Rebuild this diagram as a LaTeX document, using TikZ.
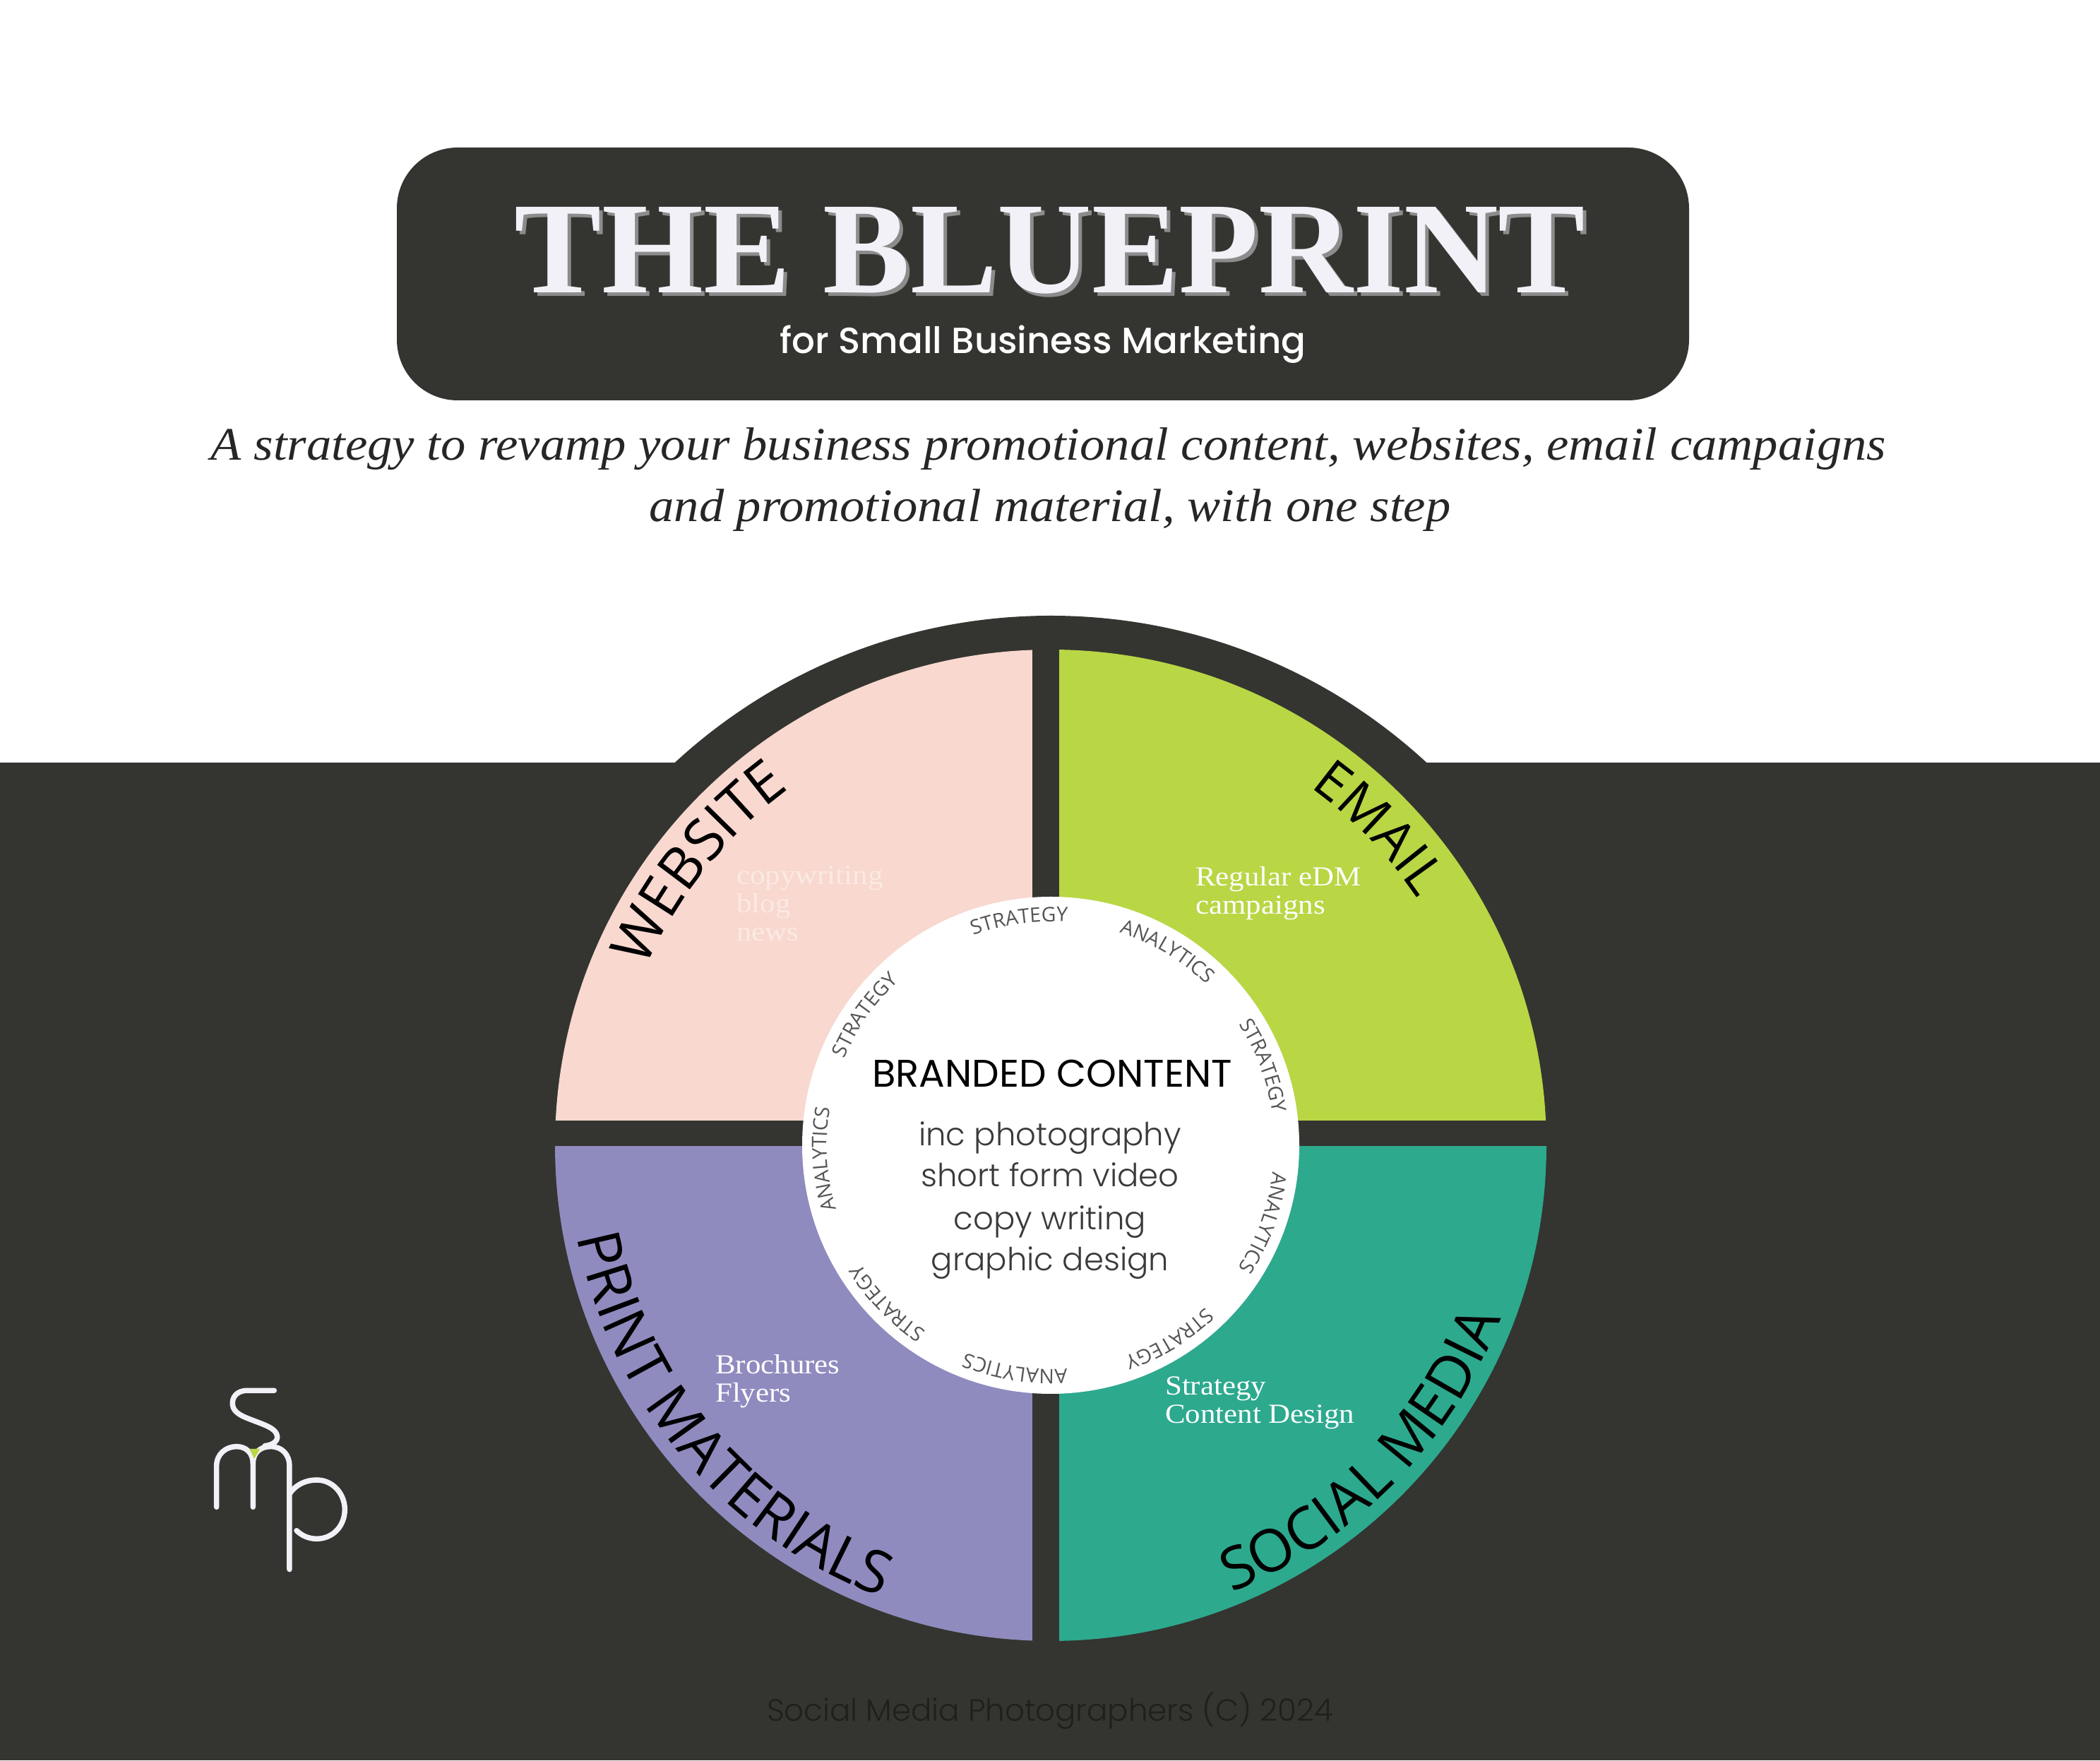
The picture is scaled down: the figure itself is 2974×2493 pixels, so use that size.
\documentclass[tikz,border=0pt]{standalone}
\usepackage{fontspec}
\usetikzlibrary{decorations.text}
\setmainfont{Liberation Serif}
\newfontfamily\capfam[FakeStretch=1.1]{Liberation Serif}
\newfontfamily\tagfam[FakeStretch=1.07]{Liberation Serif}
\newfontfamily\popp[UprightFont=* Light,BoldFont=* Medium]{Poppins}
\newfontfamily\poppreg{Poppins}
\newfontfamily\opsansreg{Open Sans}
\definecolor{darkbg}{HTML}{343530}
\definecolor{pinkq}{HTML}{F8D8CF}
\definecolor{greenq}{HTML}{B9D645}
\definecolor{tealq}{HTML}{2DA98E}
\definecolor{purpleq}{HTML}{8F8BBF}
\definecolor{titlewhite}{HTML}{F2F1F8}
\definecolor{ringgrey}{HTML}{555555}
\definecolor{bodygrey}{HTML}{3A3A3A}
\definecolor{footer}{HTML}{1F201C}
\definecolor{palepink}{HTML}{FBEAE4}
\newcommand\ringfont{\fontsize{28.5}{28.5}\selectfont\opsansreg\color{ringgrey}}
\newcommand\bigfont{\fontsize{84}{84}\selectfont\opsansreg\color{black}}
\newcommand\socfont{\fontsize{83}{83}\selectfont\opsansreg\color{black}}
\newcommand\webfont{\fontsize{81}{81}\selectfont\opsansreg\color{black}}
\newcommand\mailfont{\fontsize{76}{76}\selectfont\opsansreg\color{black}}
\tikzset{
  curved/.style={decorate,decoration={text along path,text align=center,text={#1}}},
  capt/.style={anchor=base west,align=left,inner sep=0pt,text=white,font=\fontsize{39}{40}\selectfont\capfam},
  stroke/.style={draw=titlewhite,line width=7.5pt,line cap=round,line join=round},
}
% clockwise label: angle, baseline radius, text with format
\newcommand\cwlabel[3]{\path[curved={#3}] ({#1+60}:#2) arc[start angle={#1+60},end angle={#1-60},radius=#2];}
\newcommand\ccwlabel[3]{\path[curved={#3}] ({#1-60}:#2) arc[start angle={#1-60},end angle={#1+60},radius=#2];}
\begin{document}
\begin{tikzpicture}[x=1pt,y=1pt]
\useasboundingbox (0,0) rectangle (2974,2493);
\fill[white] (0,0) rectangle (2974,2493);
\fill[darkbg] (0,0) rectangle (2974,1413);
\coordinate (c) at (1488,871);
\coordinate (ringc) at (1488,836);
\fill[darkbg] (ringc) circle[radius=785];
\begin{scope}
  \clip (c) circle[radius=702];
  \fill[pinkq] (700,906) rectangle (1462,1700);
  \fill[greenq] (1500,906) rectangle (2300,1700);
  \fill[purpleq] (700,870) rectangle (1462,100);
  \fill[tealq] (1500,870) rectangle (2300,100);
\end{scope}
\fill[white] (c) circle[radius=352];
% title
\fill[darkbg,rounded corners=86pt] (562,1926) rectangle (2392,2284);
\node[anchor=base,inner sep=0pt,text=gray!90] at (1492,2073) {\fontsize{185}{185}\selectfont\bfseries THE BLUEPRINT};
\node[anchor=base,inner sep=0pt,text=titlewhite] (title) at (1487,2078) {\fontsize{185}{185}\selectfont\bfseries THE BLUEPRINT};
\node[anchor=base,inner sep=0pt,text=white] (sub) at (1477,1992) {\fontsize{51.5}{51.5}\selectfont\popp\bfseries for Small Business Marketing};
\node[anchor=base,inner sep=0pt,text=black!85] (tag1) at (1485,1841) {\fontsize{66}{66}\selectfont\tagfam\itshape A strategy to revamp your business promotional content, websites, email campaigns};
\node[anchor=base,inner sep=0pt,text=black!85] (tag2) at (1487,1754) {\fontsize{66}{66}\selectfont\tagfam\itshape and promotional material, with one step};
% quadrant captions
\node[capt,text=palepink] (cw) at (1043,1160) {copywriting\\blog\\news};
\node[capt] (ce) at (1693,1198) {Regular eDM\\campaigns};
\node[capt] (cp) at (1013,507) {Brochures\\Flyers};
\node[capt] (cs) at (1650,477) {Strategy\\Content Design};
% centre text
\node[anchor=base,inner sep=0pt,text=black] (brand) at (1490,953) {\fontsize{54.5}{54.5}\selectfont\poppreg BRANDED CONTENT};
\foreach \t/\yy in {inc photography/870,short form video/812,copy writing/751,graphic design/693}
  \node[anchor=base,inner sep=0pt,text=bodygrey] at (1487,\yy) {\fontsize{45}{45}\selectfont\popp \t};
\node[anchor=base,inner sep=0pt,text=footer] (foot) at (1487,56) {\fontsize{43.5}{43.5}\selectfont\popp Social Media Photographers (C) 2024};
% curved labels
\begin{scope}[shift={(c)}]
  \cwlabel{141.3}{626}{|\webfont|WEBSITE}
  \cwlabel{44}{626}{|\mailfont|EMAIL}
  \ccwlabel{-44.5}{683}{|\socfont|SOCIAL MEDIA}
  \ccwlabel{220.2}{683}{|\bigfont|PRINT MATERIALS}
  \cwlabel{98}{317}{|\ringfont|STRATEGY}
  \cwlabel{59}{317}{|\ringfont|ANALYTICS}
  \cwlabel{20.5}{317}{|\ringfont|STRATEGY}
  \cwlabel{-20}{317}{|\ringfont|ANALYTICS}
  \cwlabel{-58.5}{317}{|\ringfont|STRATEGY}
  \cwlabel{-99}{317}{|\ringfont|ANALYTICS}
  \cwlabel{-136}{317}{|\ringfont|STRATEGY}
  \cwlabel{183.5}{317}{|\ringfont|ANALYTICS}
  \cwlabel{145}{317}{|\ringfont|STRATEGY}
\end{scope}
% logo
\begin{scope}[shift={(240,577)},x=0.3333pt,y=-0.3333pt]
  \draw[stroke] (445,160) -- (330,160) .. controls (285,160) and (265,190) .. (268,220)
     .. controls (272,255) and (310,270) .. (350,285) .. controls (400,305) and (455,320) .. (458,355)
     .. controls (460,378) and (435,392) .. (405,395);
  \draw[stroke] (200,655) -- (200,480) .. controls (200,430) and (240,398) .. (285,398)
     .. controls (325,398) and (355,425) .. (355,470) -- (355,655);
  \draw[stroke] (355,470) .. controls (355,425) and (385,398) .. (430,398)
     .. controls (480,398) and (510,435) .. (510,480) -- (510,920);
  \draw[stroke] (510,600) .. controls (535,560) and (580,540) .. (625,540)
     .. controls (695,540) and (745,600) .. (745,665) .. controls (745,735) and (695,790) .. (625,790)
     .. controls (590,790) and (560,775) .. (540,755);
  \fill[greenq] (340,408) -- (385,408) -- (360,450) -- cycle;
\end{scope}
\end{tikzpicture}
\end{document}
